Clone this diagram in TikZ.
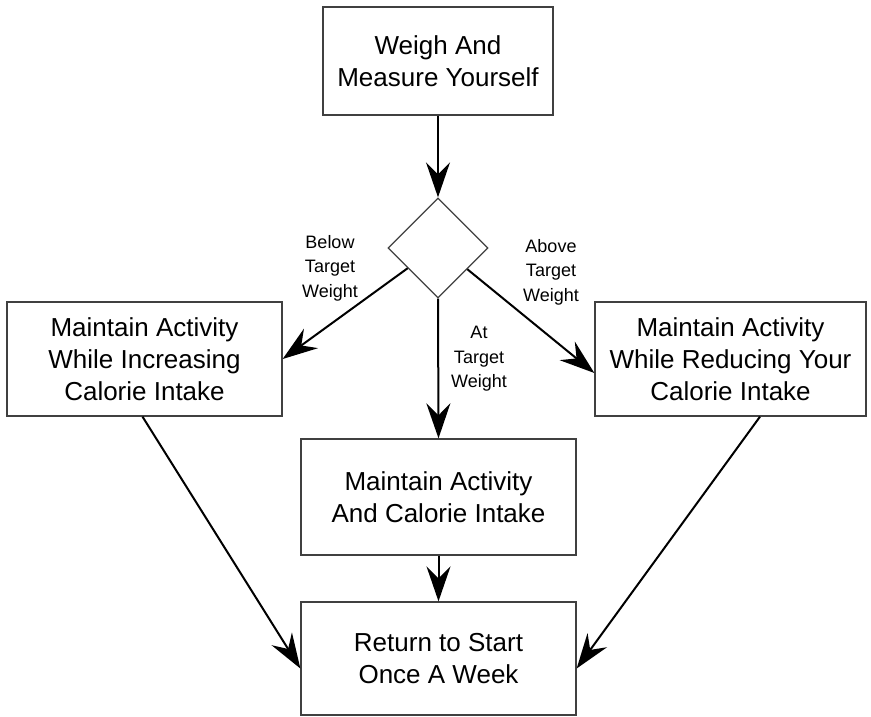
\documentclass[tikz,border=0pt]{standalone}
\usepackage{fontspec}
\setmainfont{Liberation Sans}
\usetikzlibrary{shapes.geometric,arrows.meta,calc}
\begin{document}
\begin{tikzpicture}[x=1pt,y=-1pt,
  stepbox/.style={draw=black!75,line width=1.3pt,align=center,inner sep=0pt,
    font=\fontsize{26}{32}\selectfont},
  decision/.style={draw=black!75,line width=1.3pt,diamond,minimum size=100pt,inner sep=0pt},
  flow/.style={draw=black,line width=2pt,-{Stealth[length=35pt,width=24pt,inset=12pt]}},
  cond/.style={align=center,font=\fontsize{18}{24.5}\selectfont}]
\useasboundingbox (0,0) rectangle (871,717);
% process steps
\node[stepbox,minimum width=230pt,minimum height=108pt] (weigh) at (438,61)
  {Weigh And\\Measure Yourself};
\node[decision] (check) at (438,248) {};
\node[stepbox,minimum width=275pt,minimum height=114pt] (gain) at (144.5,359)
  {Maintain Activity\\While Increasing\\Calorie Intake};
\node[stepbox,minimum width=271pt,minimum height=114pt] (lose) at (730.5,359)
  {Maintain Activity\\While Reducing Your\\Calorie Intake};
\node[stepbox,minimum width=275pt,minimum height=116pt] (keep) at (438.5,497)
  {Maintain Activity\\And Calorie Intake};
\node[stepbox,minimum width=275pt,minimum height=113pt] (again) at (438.5,658.5)
  {Return to Start\\Once A Week};
% branch labels
\node[cond] (lblbelow) at (330,268) {Below\\Target\\Weight};
\node[cond] (lblabove) at (551,272) {Above\\Target\\Weight};
\node[cond] (lblat) at (479,359) {At\\Target\\Weight};
% connectors
\draw[flow] (weigh.south) -- (check.north);
\draw[flow] ($(check.west)!0.4!(check.south)$) -- (gain.east);
\draw[flow] ($(check.east)!0.42!(check.south)$) -- ([yshift=-14pt]lose.west);
\draw[flow] (check.south) -- (keep.north);
\draw[flow] (keep.south) -- (again.north);
\draw[flow] ([xshift=-2pt]gain.south) -- ([yshift=-10pt]again.west);
\draw[flow] ([xshift=29.5pt]lose.south) -- ([yshift=-10pt]again.east);
\end{tikzpicture}
\end{document}
